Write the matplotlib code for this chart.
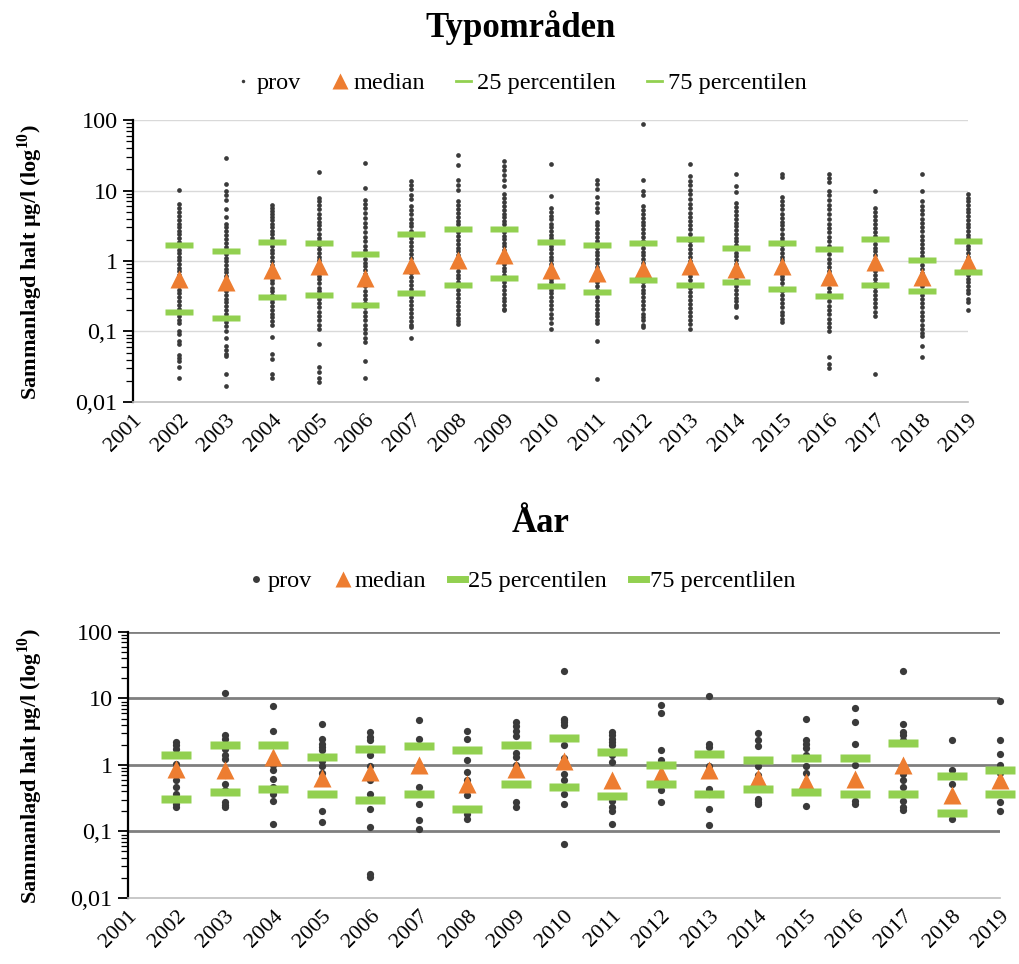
import matplotlib.pyplot as plt
from matplotlib.lines import Line2D
import matplotlib.ticker as ticker

plt.rcParams['font.family'] = ['Liberation Serif', 'DejaVu Serif']
plt.rcParams['mathtext.fontset'] = 'custom'
plt.rcParams['mathtext.rm'] = 'Liberation Serif'
plt.rcParams['mathtext.bf'] = 'Liberation Serif:bold'

ar = list(range(2002, 2020))
ar_ticks = list(range(2001, 2020))

# --- Typområden: alla prov per år (µg/l) ---
typ_2002 = [10.3, 6.4, 5.6, 4.9, 4.3, 3.8, 3.4, 3.0, 2.7, 2.4, 2.1, 1.85, 1.62, 1.45, 1.3, 1.15, 1.02, 0.9, 0.8, 0.71, 0.63, 0.56, 0.5, 0.44, 0.39, 0.35, 0.31, 0.27, 0.24, 0.21, 0.185, 0.165, 0.145, 0.13, 0.1, 0.092, 0.074, 0.066, 0.046, 0.042, 0.038, 0.031, 0.022]
typ_2003 = [28.5, 12.3, 9.8, 8.6, 7.3, 5.5, 4.2, 3.4, 3.0, 2.65, 2.35, 2.05, 1.8, 1.6, 1.42, 1.26, 1.12, 1.0, 0.88, 0.78, 0.69, 0.61, 0.54, 0.48, 0.43, 0.38, 0.33, 0.29, 0.26, 0.23, 0.2, 0.175, 0.155, 0.135, 0.12, 0.1, 0.08, 0.063, 0.055, 0.048, 0.045, 0.025, 0.017]
typ_2004 = [6.2, 5.7, 5.2, 4.7, 4.2, 3.8, 3.4, 3.0, 2.7, 2.4, 2.1, 1.85, 1.65, 1.45, 1.28, 1.13, 1.0, 0.88, 0.78, 0.69, 0.61, 0.54, 0.48, 0.42, 0.37, 0.33, 0.29, 0.26, 0.23, 0.2, 0.18, 0.16, 0.14, 0.125, 0.083, 0.048, 0.041, 0.025, 0.022]
typ_2005 = [18.4, 7.9, 7.0, 6.2, 5.4, 4.7, 4.1, 3.6, 3.2, 2.8, 2.45, 2.15, 1.9, 1.68, 1.48, 1.3, 1.15, 1.02, 0.9, 0.8, 0.7, 0.62, 0.55, 0.48, 0.42, 0.37, 0.33, 0.29, 0.25, 0.22, 0.19, 0.165, 0.145, 0.125, 0.11, 0.067, 0.031, 0.027, 0.022, 0.019]
typ_2006 = [24.2, 10.7, 7.4, 6.5, 5.6, 4.8, 4.1, 3.5, 3.0, 2.6, 2.2, 1.9, 1.65, 1.42, 1.24, 1.08, 0.95, 0.84, 0.74, 0.65, 0.57, 0.5, 0.44, 0.38, 0.33, 0.29, 0.25, 0.22, 0.19, 0.165, 0.145, 0.125, 0.11, 0.095, 0.082, 0.07, 0.038, 0.022]
typ_2007 = [13.5, 12.0, 10.5, 8.6, 7.6, 6.0, 5.3, 4.6, 4.0, 3.5, 3.1, 2.7, 2.4, 2.1, 1.85, 1.62, 1.42, 1.25, 1.1, 0.97, 0.86, 0.76, 0.67, 0.59, 0.52, 0.46, 0.4, 0.35, 0.31, 0.27, 0.24, 0.21, 0.185, 0.16, 0.14, 0.125, 0.115, 0.081]
typ_2008 = [31.8, 23.0, 14.2, 12.0, 10.1, 7.2, 6.3, 5.5, 4.8, 4.2, 3.7, 3.3, 2.9, 2.55, 2.25, 2.0, 1.75, 1.55, 1.37, 1.2, 1.06, 0.94, 0.83, 0.73, 0.64, 0.57, 0.5, 0.44, 0.39, 0.34, 0.3, 0.26, 0.23, 0.2, 0.175, 0.155, 0.14, 0.128]
typ_2009 = [26.0, 22.5, 19.5, 16.5, 14.0, 11.5, 9.0, 7.8, 6.8, 6.0, 5.3, 4.7, 4.2, 3.7, 3.3, 2.9, 2.6, 2.3, 2.05, 1.82, 1.62, 1.44, 1.28, 1.14, 1.0, 0.9, 0.8, 0.71, 0.63, 0.56, 0.5, 0.44, 0.39, 0.34, 0.3, 0.27, 0.24, 0.21, 0.2]
typ_2010 = [24.0, 8.3, 5.6, 5.0, 4.4, 3.9, 3.4, 3.0, 2.65, 2.35, 2.1, 1.85, 1.65, 1.46, 1.3, 1.15, 1.02, 0.9, 0.8, 0.71, 0.63, 0.56, 0.5, 0.44, 0.39, 0.35, 0.31, 0.27, 0.24, 0.21, 0.18, 0.155, 0.13, 0.11]
typ_2011 = [14.0, 12.2, 10.4, 8.2, 6.6, 5.6, 5.0, 3.6, 3.2, 2.85, 2.5, 2.2, 1.95, 1.72, 1.52, 1.35, 1.2, 1.06, 0.94, 0.83, 0.73, 0.65, 0.57, 0.5, 0.44, 0.39, 0.35, 0.31, 0.27, 0.24, 0.21, 0.185, 0.165, 0.145, 0.13, 0.074, 0.021]
typ_2012 = [89.0, 14.3, 10.0, 8.6, 6.0, 5.3, 4.7, 4.1, 3.6, 3.2, 2.8, 2.5, 2.2, 1.95, 1.72, 1.52, 1.35, 1.2, 1.06, 0.94, 0.83, 0.73, 0.65, 0.57, 0.5, 0.44, 0.39, 0.35, 0.31, 0.27, 0.24, 0.21, 0.18, 0.16, 0.145, 0.125, 0.115]
typ_2013 = [24.0, 16.0, 13.8, 12.0, 10.2, 8.8, 7.6, 6.5, 5.6, 4.8, 4.2, 3.7, 3.2, 2.8, 2.45, 2.15, 1.9, 1.67, 1.47, 1.3, 1.14, 1.0, 0.88, 0.78, 0.69, 0.61, 0.54, 0.47, 0.41, 0.36, 0.32, 0.28, 0.245, 0.215, 0.19, 0.165, 0.145, 0.128, 0.11]
typ_2014 = [16.9, 11.5, 9.6, 6.6, 5.8, 5.1, 4.5, 4.0, 3.5, 3.1, 2.75, 2.45, 2.15, 1.9, 1.68, 1.48, 1.31, 1.16, 1.03, 0.91, 0.8, 0.71, 0.63, 0.56, 0.5, 0.44, 0.39, 0.34, 0.3, 0.27, 0.24, 0.22, 0.16]
typ_2015 = [17.4, 15.6, 8.0, 7.0, 6.2, 5.4, 4.7, 4.1, 3.6, 3.2, 2.8, 2.45, 2.15, 1.9, 1.68, 1.48, 1.3, 1.15, 1.02, 0.9, 0.8, 0.7, 0.62, 0.55, 0.48, 0.42, 0.37, 0.33, 0.29, 0.25, 0.22, 0.19, 0.17, 0.15, 0.135]
typ_2016 = [17.0, 15.2, 13.0, 10.0, 8.5, 7.3, 6.3, 5.4, 4.6, 4.0, 3.4, 2.95, 2.55, 2.2, 1.9, 1.65, 1.43, 1.24, 1.08, 0.94, 0.82, 0.72, 0.63, 0.55, 0.48, 0.42, 0.36, 0.31, 0.27, 0.23, 0.2, 0.175, 0.15, 0.13, 0.115, 0.1, 0.043, 0.035, 0.03]
typ_2017 = [9.8, 5.6, 4.9, 4.3, 3.8, 3.3, 2.9, 2.55, 2.25, 2.0, 1.76, 1.55, 1.37, 1.2, 1.06, 0.94, 0.83, 0.73, 0.64, 0.56, 0.49, 0.43, 0.38, 0.33, 0.29, 0.25, 0.22, 0.19, 0.165, 0.025]
typ_2018 = [16.9, 9.8, 7.0, 6.1, 5.3, 4.6, 4.0, 3.5, 3.05, 2.65, 2.3, 2.0, 1.75, 1.52, 1.33, 1.16, 1.01, 0.88, 0.77, 0.67, 0.58, 0.5, 0.44, 0.38, 0.33, 0.29, 0.25, 0.22, 0.19, 0.165, 0.145, 0.125, 0.11, 0.095, 0.085, 0.063, 0.044]
typ_2019 = [8.8, 7.9, 7.0, 6.2, 5.5, 4.9, 4.3, 3.8, 3.4, 3.0, 2.65, 2.35, 2.1, 1.85, 1.65, 1.46, 1.3, 1.15, 1.02, 0.9, 0.8, 0.71, 0.63, 0.56, 0.5, 0.44, 0.39, 0.35, 0.29, 0.26, 0.2]

typ_median = [0.56, 0.5, 0.74, 0.84, 0.57, 0.87, 1.02, 1.2, 0.74, 0.68, 0.78, 0.84, 0.78, 0.84, 0.59, 0.97, 0.59, 0.96]
typ_p25 = [0.19, 0.156, 0.31, 0.33, 0.234, 0.35, 0.45, 0.57, 0.44, 0.36, 0.54, 0.45, 0.5, 0.4, 0.32, 0.45, 0.37, 0.7]
typ_p75 = [1.69, 1.39, 1.86, 1.78, 1.26, 2.39, 2.8, 2.88, 1.86, 1.69, 1.78, 2.08, 1.55, 1.78, 1.48, 2.08, 1.03, 1.9]

# --- Åar: alla prov per år (µg/l) ---
aar_2002 = [2.2, 1.98, 1.76, 1.48, 1.05, 0.74, 0.59, 0.47, 0.37, 0.26, 0.23]
aar_2003 = [12.2, 2.8, 2.5, 1.76, 1.4, 1.25, 0.7, 0.52, 0.42, 0.28, 0.25, 0.23]
aar_2004 = [7.6, 3.2, 1.0, 0.83, 0.62, 0.47, 0.37, 0.29, 0.128]
aar_2005 = [4.1, 2.5, 2.1, 1.86, 1.66, 1.15, 0.95, 0.75, 0.2, 0.14]
aar_2006 = [3.1, 2.6, 2.35, 1.4, 0.98, 0.6, 0.37, 0.22, 0.117, 0.023, 0.021]
aar_2007 = [4.7, 2.5, 0.47, 0.26, 0.147, 0.11]
aar_2008 = [3.3, 2.5, 1.17, 0.79, 0.59, 0.42, 0.35, 0.185, 0.156]
aar_2009 = [4.4, 3.8, 3.3, 2.7, 1.5, 1.32, 1.0, 0.28, 0.23]
aar_2010 = [26.0, 4.9, 4.7, 4.4, 3.95, 2.0, 1.26, 0.95, 0.74, 0.59, 0.37, 0.26, 0.064]
aar_2011 = [3.1, 2.8, 2.5, 2.2, 2.0, 1.4, 1.1, 0.29, 0.23, 0.2, 0.128]
aar_2012 = [7.9, 6.0, 1.7, 1.2, 0.5, 0.42, 0.28]
aar_2013 = [10.8, 2.1, 1.86, 0.98, 0.44, 0.37, 0.22, 0.124]
aar_2014 = [3.0, 2.35, 1.9, 0.98, 0.7, 0.31, 0.28, 0.26]
aar_2015 = [4.9, 2.35, 2.1, 1.82, 1.4, 0.95, 0.75, 0.52, 0.24]
aar_2016 = [7.3, 4.4, 2.1, 1.0, 0.29, 0.26]
aar_2017 = [26.0, 4.1, 3.1, 2.8, 2.4, 0.9, 0.74, 0.59, 0.47, 0.29, 0.23, 0.21]
aar_2018 = [2.4, 0.83, 0.52, 0.156]
aar_2019 = [9.1, 2.4, 1.48, 1.0, 0.75, 0.28, 0.2]

aar_median = [0.88, 0.83, 1.32, 0.64, 0.79, 1.0, 0.52, 0.88, 1.15, 0.59, 0.72, 0.83, 0.64, 0.55, 0.62, 1.0, 0.35, 0.6]
aar_p25 = [0.31, 0.39, 0.44, 0.36, 0.3, 0.36, 0.215, 0.52, 0.47, 0.34, 0.52, 0.37, 0.43, 0.39, 0.36, 0.37, 0.19, 0.36]
aar_p75 = [1.43, 2.0, 2.0, 1.32, 1.76, 1.9, 1.7, 2.0, 2.58, 1.55, 0.99, 1.48, 1.2, 1.27, 1.27, 2.17, 0.68, 0.83]

typ_prov = [typ_2002, typ_2003, typ_2004, typ_2005, typ_2006, typ_2007, typ_2008, typ_2009, typ_2010,
            typ_2011, typ_2012, typ_2013, typ_2014, typ_2015, typ_2016, typ_2017, typ_2018, typ_2019]
aar_prov = [aar_2002, aar_2003, aar_2004, aar_2005, aar_2006, aar_2007, aar_2008, aar_2009, aar_2010,
            aar_2011, aar_2012, aar_2013, aar_2014, aar_2015, aar_2016, aar_2017, aar_2018, aar_2019]

GRON = '#92D050'
ORANGE = '#ED7D31'
GRA = '#3a3a3a'
ytick_text = {100: '100', 10: '10', 1: '1', 0.1: '0,1', 0.01: '0,01'}


def stapel(h):
    # liggande rektangel som markör för percentilerna
    return [(-1, -h), (1, -h), (1, h), (-1, h), (-1, -h)]


def rita(ax, prov, median, p25, p75, prick, bar_h, bar_ms, gridfarg, gridlw):
    for grans in [0.1, 1, 10, 100]:
        ax.axhline(grans, color=gridfarg, lw=gridlw, zorder=0)
    for x, varden in zip(ar, prov):
        ax.plot([x] * len(varden), varden, ls='none', marker='o', ms=prick,
                color=GRA, mec='none', zorder=2, clip_on=False)
    ax.plot(ar, median, ls='none', marker='^', ms=13.5, color=ORANGE, mec='none', zorder=3, clip_on=False)
    ax.plot(ar, p25, ls='none', marker=stapel(bar_h), ms=bar_ms, color=GRON, mec='none', zorder=4, clip_on=False)
    ax.plot(ar, p75, ls='none', marker=stapel(bar_h), ms=bar_ms, color=GRON, mec='none', zorder=4, clip_on=False)

    ax.set_yscale('log')
    ax.set_ylim(0.01, 100)
    ax.set_xlim(2001, 2019)
    ax.set_xticks(ar_ticks)
    ax.set_xticklabels([str(a) for a in ar_ticks], rotation=45, ha='right', va='top',
                       rotation_mode='anchor', fontsize=16)
    ax.tick_params(axis='x', length=0, pad=6)
    ax.set_yticks([0.01, 0.1, 1, 10, 100])
    ax.yaxis.set_major_formatter(ticker.FuncFormatter(lambda v, p: ytick_text.get(round(v, 2), '')))
    ax.yaxis.set_minor_locator(ticker.LogLocator(base=10, subs=range(2, 10), numticks=20))
    ax.yaxis.set_minor_formatter(ticker.NullFormatter())
    ax.tick_params(axis='y', which='major', length=7, width=1.3, labelsize=17.5, pad=4)
    ax.tick_params(axis='y', which='minor', length=5, width=0.9)
    for s in ['top', 'right']:
        ax.spines[s].set_visible(False)
    ax.spines['left'].set_linewidth(1.6)
    ax.spines['left'].set_color('black')
    ax.spines['bottom'].set_color('#bfbfbf')
    ax.spines['bottom'].set_linewidth(1.2)


fig = plt.figure(figsize=(10.19, 9.64), dpi=100)

ax1 = fig.add_axes([0.1305, 0.583, 0.8195, 0.2925])
rita(ax1, typ_prov, typ_median, typ_p25, typ_p75, prick=3.4, bar_h=0.2, bar_ms=20, gridfarg='#d9d9d9', gridlw=1.0)

ax2 = fig.add_axes([0.1256, 0.0685, 0.8557, 0.2759])
rita(ax2, aar_prov, aar_median, aar_p25, aar_p75, prick=5.2, bar_h=0.27, bar_ms=21.5, gridfarg='#7f7f7f', gridlw=2.0)

# legender
h_top = [Line2D([], [], ls='none', marker='o', ms=2.5, color=GRA, mec='none'),
         Line2D([], [], ls='none', marker='^', ms=12, color=ORANGE, mec='none'),
         Line2D([], [], color=GRON, lw=2),
         Line2D([], [], color=GRON, lw=2)]
ax1.legend(h_top, ['prov', 'median', '25 percentilen', '75 percentilen'], loc='center',
           bbox_to_anchor=(0.465, 1.13), ncol=4, frameon=False, fontsize=17.5,
           handlelength=0.6, handletextpad=0.25, columnspacing=1.3)

h_bot = [Line2D([], [], ls='none', marker='o', ms=5, color=GRA, mec='none'),
         Line2D([], [], ls='none', marker='^', ms=12, color=ORANGE, mec='none'),
         Line2D([], [], color=GRON, lw=5),
         Line2D([], [], color=GRON, lw=5)]
ax2.legend(h_bot, ['prov', 'median', '25 percentilen', '75 percentlilen'], loc='center',
           bbox_to_anchor=(0.452, 1.19), ncol=4, frameon=False, fontsize=17.5,
           handlelength=0.6, handletextpad=0.15, columnspacing=1.0)

# titlar och axeltexter
fig.text(0.511, 1 - 28 / 964, 'Typområden', ha='center', va='center', fontsize=25, fontweight='bold')
fig.text(0.530, 1 - 523 / 964, 'Åar', ha='center', va='center', fontsize=25, fontweight='bold')

ylabel = r'Sammanlagd halt µg/l (log$^{\mathbf{10}}$)'
fig.text(30 / 1019, 1 - 262 / 964, ylabel, rotation=90, ha='center', va='center', fontsize=16, fontweight='bold')
fig.text(30 / 1019, 1 - 766 / 964, ylabel, rotation=90, ha='center', va='center', fontsize=16, fontweight='bold')

plt.savefig('out.png', dpi=100)
